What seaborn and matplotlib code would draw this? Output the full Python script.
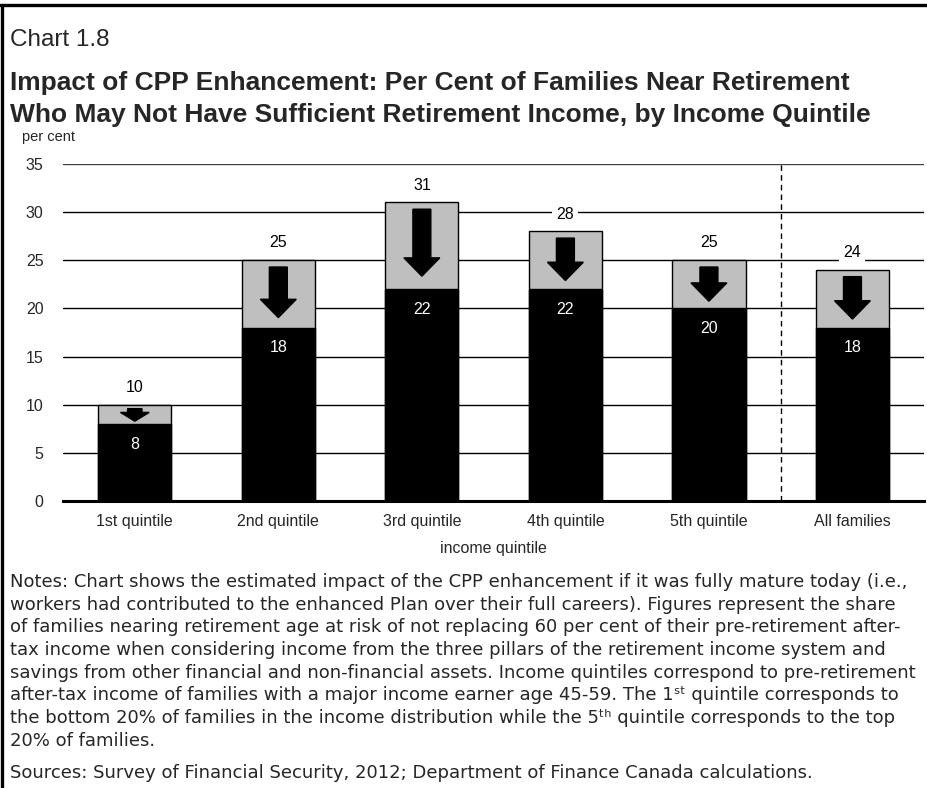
import matplotlib
matplotlib.use("Agg")
import matplotlib.pyplot as plt
from matplotlib.lines import Line2D
from matplotlib.patches import FancyArrow
import seaborn as sns
import pandas as pd

# Chart data
categories = ["1st quintile", "2nd quintile", "3rd quintile",
              "4th quintile", "5th quintile", "All families"]
before_enh = [10, 25, 31, 28, 25, 24]
after_enh = [8, 18, 22, 22, 20, 18]
y_ticks = [0, 5, 10, 15, 20, 25, 30, 35]

note_lines = [
    "Notes: Chart shows the estimated impact of the CPP enhancement if it was fully mature today (i.e.,",
    "workers had contributed to the enhanced Plan over their full careers). Figures represent the share",
    "of families nearing retirement age at risk of not replacing 60 per cent of their pre-retirement after-",
    "tax income when considering income from the three pillars of the retirement income system and",
    "savings from other financial and non-financial assets. Income quintiles correspond to pre-retirement",
    "after-tax income of families with a major income earner age 45-59. The 1\u02e2\u1d57 quintile corresponds to",
    "the bottom 20% of families in the income distribution while the 5\u1d57\u02b0 quintile corresponds to the top",
    "20% of families.",
]
source_text = "Sources: Survey of Financial Security, 2012; Department of Finance Canada calculations."

df = pd.DataFrame({"group": categories, "before": before_enh, "after": after_enh})

sns.set_theme(style="white")
plt.rcParams["font.family"] = ["Liberation Sans", "DejaVu Sans"]

fig = plt.figure(figsize=(9.27, 7.88), dpi=100)
ax = fig.add_axes([0.068, 0.364, 0.929, 0.428])

# grid behind bars
for t in y_ticks[1:]:
    ax.axhline(t, color="black" if t < 35 else "#404040",
               lw=1.0 if t < 35 else 1.7, zorder=0)

sns.barplot(data=df, x="group", y="before", color="#bfbfbf", edgecolor="black",
            linewidth=1.0, width=0.51, saturation=1, ax=ax, zorder=2)
sns.barplot(data=df, x="group", y="after", color="black", edgecolor="black",
            linewidth=1.0, width=0.51, saturation=1, ax=ax, zorder=3)

# arrows + labels
for i, (b, a) in enumerate(zip(before_enh, after_enh)):
    gap = b - a
    start = b - min(0.7, 0.2 * gap)
    end = a + min(1.4, 0.15 * gap)
    length = start - end
    s = min(1.0, 0.6 + 0.1 * gap)
    ax.add_patch(FancyArrow(i, start, 0, -length, width=0.125 * s,
                            head_width=0.25 * s, head_length=min(1.9, 0.7 * length),
                            length_includes_head=True, color="black", zorder=4))
    ax.text(i, b + 1.8, str(b), ha="center", va="center", fontsize=11.5,
            color="black", zorder=5,
            bbox=dict(facecolor="white", edgecolor="none", pad=3))
    ax.text(i, a - 2.1, str(a), ha="center", va="center", fontsize=11.5,
            color="white", zorder=5)

ax.plot([4.5, 4.5], [0, 35], ls=(0, (4, 3)), color="black", lw=1.0, zorder=1)

ax.set_xlim(-0.5, 5.5)
ax.set_ylim(0, 35)
ax.set_yticks(y_ticks)
ax.tick_params(axis="y", length=0, pad=14, labelsize=11.5)
ax.tick_params(axis="x", length=0, pad=9, labelsize=11.5)
ax.set_xlabel("income quintile", fontsize=11.5, labelpad=9)
ax.set_ylabel("")
for side in ["left", "right", "top"]:
    ax.spines[side].set_visible(False)
ax.spines["bottom"].set_linewidth(2.2)
ax.spines["bottom"].set_color("black")
ax.spines["bottom"].set_zorder(6)

# titles
fig.text(0.011, 0.949, "Chart 1.8", fontsize=17.5, va="center", ha="left")
fig.text(0.011, 0.895, "Impact of CPP Enhancement: Per Cent of Families Near Retirement",
         fontsize=19, fontweight="bold", va="center", ha="left")
fig.text(0.011, 0.854, "Who May Not Have Sufficient Retirement Income, by Income Quintile",
         fontsize=19, fontweight="bold", va="center", ha="left")
fig.text(0.024, 0.826, "per cent", fontsize=10.5, va="center", ha="left")

# notes, one line at a time
for k, line in enumerate(note_lines):
    fig.text(0.011, (788 - 587 - 22.7 * k) / 788, line, fontsize=13, va="baseline",
             ha="left", family="DejaVu Sans")
fig.text(0.011, (788 - 778) / 788, source_text, fontsize=13, va="baseline", ha="left",
         family="DejaVu Sans")

# frame lines (top and left)
fig.add_artist(Line2D([0, 1], [0.994, 0.994], transform=fig.transFigure, color="black", lw=2.4))
fig.add_artist(Line2D([0.002, 0.002], [0, 0.994], transform=fig.transFigure, color="black", lw=2.4))

fig.savefig("out.png", dpi=100)
